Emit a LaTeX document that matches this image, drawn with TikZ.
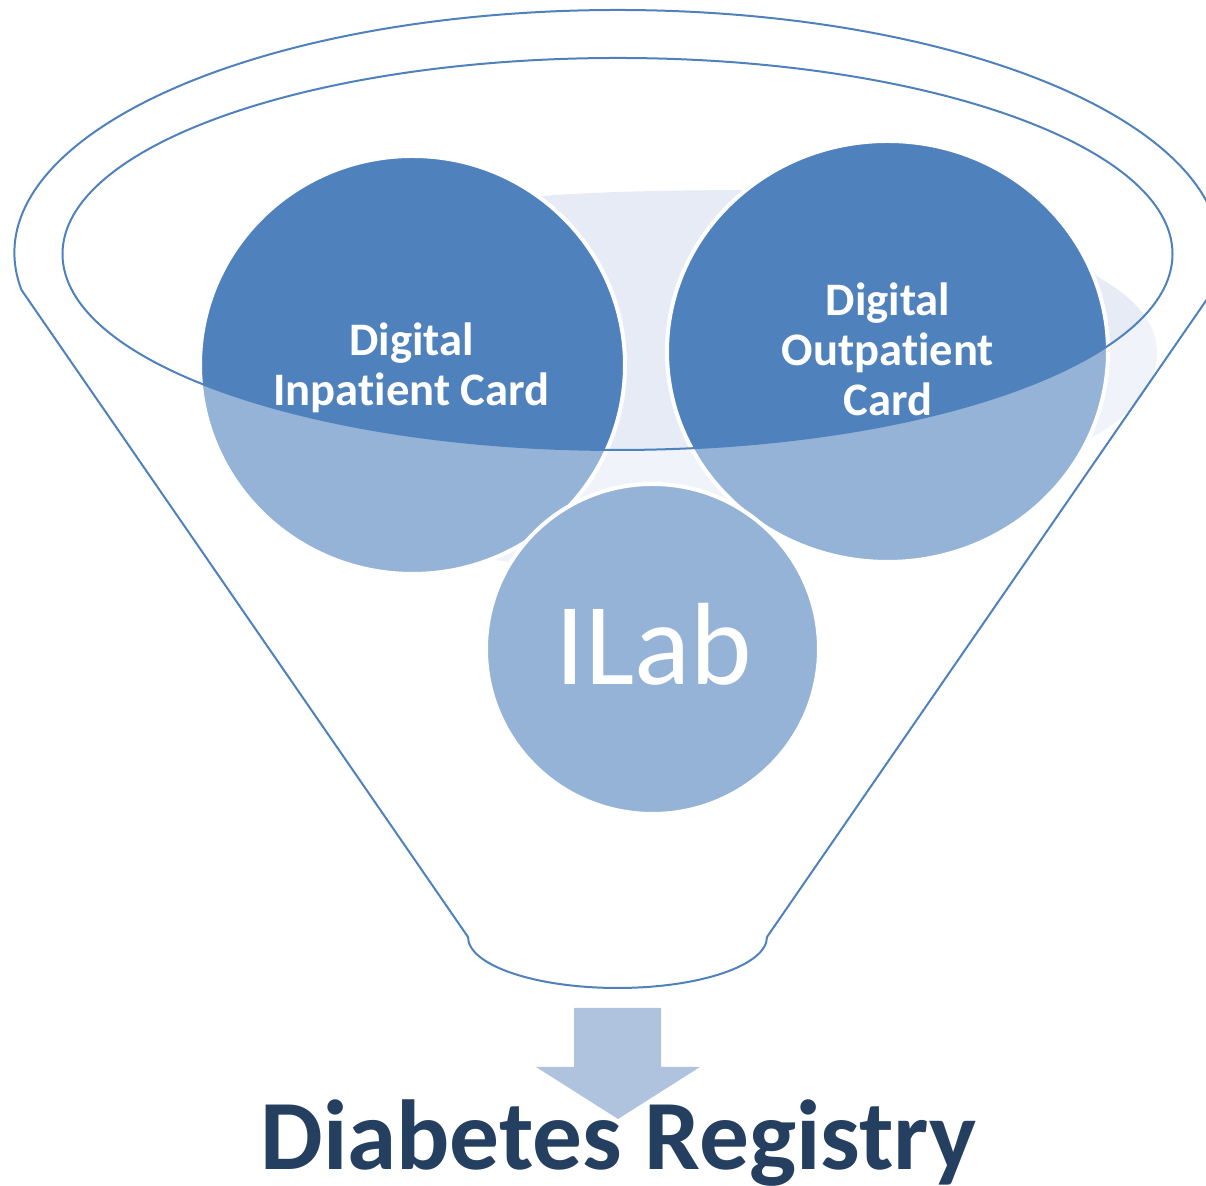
\documentclass[tikz,border=0pt]{standalone}
\usepackage{fontspec}
\setmainfont{Carlito}[Ligatures={NoCommon}]
\definecolor{accent}{HTML}{4F81BD}
\definecolor{lightbg}{HTML}{E6EBF5}
\definecolor{arrowc}{HTML}{B0C3DE}
\definecolor{navy}{HTML}{243F60}
\begin{document}
\begin{tikzpicture}[x=0.5pt,y=0.5pt,
  bubble/.style={fill=accent, draw=white, line width=2pt},
  funnelline/.style={draw=accent, line width=1pt},
  cardtext/.style={text=white, font=\fontsize{23.3}{25}\selectfont\bfseries, align=center, inner sep=0pt},
  veil/.style={fill=white, fill opacity=0.4, even odd rule}]
\useasboundingbox (0,0) rectangle (1206,1186);
\clip (0,0) rectangle (1206,1186);

% light background shape behind the circles
\fill[lightbg] (543,990) .. controls (600,995) and (700,996) .. (760,996)
  .. controls (950,1000) and (1060,940) .. (1098,909)
  .. controls (1140,885) and (1157,860) .. (1157,833)
  .. controls (1157,800) and (1130,770) .. (1093,749)
  -- (950,700) -- (800,680) -- (652,600) -- (412,640) -- (450,990) -- cycle;

% circles
\filldraw[bubble] (412.5,821) ellipse [x radius=212.5, y radius=209];
\filldraw[bubble] (887.5,834.5) ellipse [x radius=220.5, y radius=210.5];
\filldraw[bubble] (652.5,537) ellipse [x radius=166.5, y radius=165];

% texts in circles
\node[cardtext] (inpatient) at (411.5,818) {Digital\\Inpatient Card};
\node[cardtext] (outpatient) at (888,836.5) {Digital\\Outpatient\\Card};
\node[text=white, font=\fontsize{58.5}{60}\selectfont, anchor=base, inner sep=0pt] (ilab) at (654,501) {ILab};

% funnel body veil
\fill[veil] (21.5,896) arc[start angle=188.76, end angle=-8.76, x radius=603, y radius=243]
  -- (767,249) arc[start angle=0, end angle=-180, x radius=149.5, y radius=51] -- cycle
  (617.5,932) ellipse [x radius=555, y radius=196];

% funnel outlines
\draw[funnelline] (21.5,896) arc[start angle=188.76, end angle=-8.76, x radius=603, y radius=243]
  -- (767,249) arc[start angle=0, end angle=-180, x radius=149.5, y radius=51] -- cycle;
\draw[funnelline] (617.5,932) ellipse [x radius=555, y radius=196];

% arrow
\fill[arrowc] (574,178) -- (661,178) -- (661,119) -- (700,119) -- (618,67) -- (536,119) -- (574,119) -- cycle;

\node[text=navy, font=\fontsize{49.7}{55}\selectfont\bfseries, anchor=base, inner sep=0pt] (registry) at (618.5,16) {Diabetes Registry};
\end{tikzpicture}
\end{document}
